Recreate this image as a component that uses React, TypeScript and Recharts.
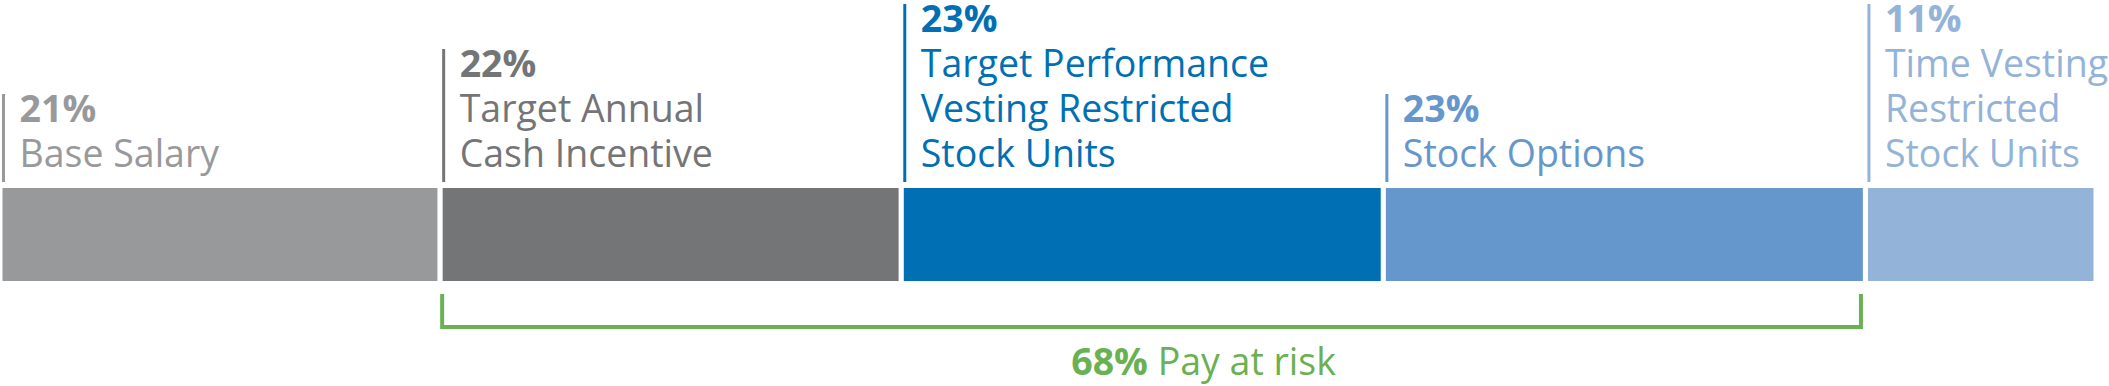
import React from 'react';
import { BarChart, Bar, XAxis, YAxis, LabelList } from 'recharts';

const CATEGORIES = ['Pay mix'];
const SEGMENT_KEYS = ['base', 'cash', 'psu', 'options', 'time'];
const SEGMENT_VALUES = [21, 22, 23, 23, 11];
const SEGMENT_LABELS = [
  ['Base Salary'],
  ['Target Annual', 'Cash Incentive'],
  ['Target Performance', 'Vesting Restricted', 'Stock Units'],
  ['Stock Options'],
  ['Time Vesting', 'Restricted', 'Stock Units'],
];
const AT_RISK_KEYS = ['cash', 'psu', 'options'];
const AT_RISK_PCT = '68%';
const AT_RISK_TEXT = 'Pay at risk';

const COLORS = ['#98999b', '#747577', '#006fb4', '#6697cc', '#94b3d9'];
const GREEN = '#69b153';
const FONT = '"Open Sans", sans-serif';
const FONT_SIZE = 37.5;
const LINE_H = 45;

const data = CATEGORIES.map((name) => {
  const row: any = { name };
  SEGMENT_KEYS.forEach((k, i) => (row[k] = SEGMENT_VALUES[i]));
  return row;
});

// label above each segment: vertical rule + percentage + wrapped name
const makeLabel = (i: number) => (props: any) => {
  const { x, y } = props;
  const lines = SEGMENT_LABELS[i];
  const color = COLORS[i];
  const ruleX = x + 3.5;
  const textX = x + 19.5;
  const lastBase = y - 18.5;
  const pctBase = lastBase - LINE_H * lines.length;
  return (
    <g>
      <line x1={ruleX} x2={ruleX} y1={pctBase - 28} y2={y - 3.5} stroke={color} strokeWidth={3} />
      <text x={textX} y={pctBase} fill={color} fontFamily={FONT} fontSize={FONT_SIZE} fontWeight={700}>
        {SEGMENT_VALUES[i]}%
      </text>
      {lines.map((l, j) => (
        <text
          key={j}
          x={textX}
          y={pctBase + LINE_H * (j + 1)}
          fill={color}
          fontFamily={FONT}
          fontSize={FONT_SIZE}
        >
          {l}
        </text>
      ))}
    </g>
  );
};

// bracket under the at-risk segments, drawn from the last at-risk bar's geometry
const BracketLabel = (props: any) => {
  const { x, y, width, height } = props;
  const lastIdx = SEGMENT_KEYS.indexOf(AT_RISK_KEYS[AT_RISK_KEYS.length - 1]);
  const perUnit = width / SEGMENT_VALUES[lastIdx];
  const total = AT_RISK_KEYS.reduce((s, k) => s + SEGMENT_VALUES[SEGMENT_KEYS.indexOf(k)], 0);
  const end = x + width;
  const start = end - total * perUnit;
  const x0 = start + 2;
  const x1 = end - 4.5;
  const top = y + height + 10.5;
  const bottom = y + height + 43.5;
  const mid = (x0 + x1) / 2;
  return (
    <g>
      <path
        d={`M${x0},${top} L${x0},${bottom} L${x1},${bottom} L${x1},${top}`}
        fill="none"
        stroke={GREEN}
        strokeWidth={4}
      />
      <text
        x={mid + 52}
        y={bottom + 48}
        textAnchor="middle"
        fill={GREEN}
        fontFamily={FONT}
        fontSize={FONT_SIZE}
        style={{ whiteSpace: 'pre' }}
      >
        <tspan fontWeight={700}>{AT_RISK_PCT}</tspan>
        <tspan>{' ' + AT_RISK_TEXT}</tspan>
      </text>
    </g>
  );
};

export default function App() {
  return (
    <div>
      <style>{'body{margin:0;background:#fff}'}</style>
      <BarChart
        width={2109}
        height={386}
        data={data}
        layout="vertical"
        margin={{ top: 185.5, right: 13, bottom: 102.5, left: 0 }}
        barCategoryGap={0}
      >
        <XAxis type="number" domain={[0, 100]} hide />
        <YAxis type="category" dataKey="name" hide />
        {SEGMENT_KEYS.map((k, i) => (
          <Bar
            key={k}
            dataKey={k}
            stackId="pay"
            fill={COLORS[i]}
            stroke="#fff"
            strokeWidth={5}
            isAnimationActive={false}
          >
            <LabelList dataKey={k} content={makeLabel(i)} />
            {k === AT_RISK_KEYS[AT_RISK_KEYS.length - 1] && (
              <LabelList dataKey={k} content={BracketLabel} />
            )}
          </Bar>
        ))}
      </BarChart>
    </div>
  );
}
